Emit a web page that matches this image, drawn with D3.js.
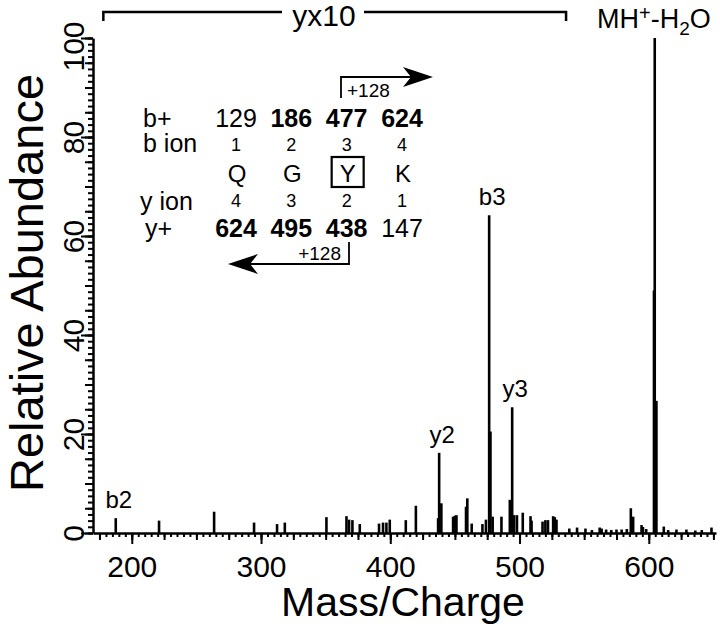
<!DOCTYPE html>
<html>
<head>
<meta charset="utf-8">
<script src="https://cdn.jsdelivr.net/npm/d3@7"></script>
<style>
  body { margin: 0; background: #fff; }
  svg text { font-family: "Liberation Sans", Arial, Helvetica, sans-serif; fill: #000; }
</style>
</head>
<body>
<div id="chart"></div>
<script>
// peaks (m/z, displayed relative abundance)
const mz = [187.6, 221.1, 263.7, 294.6, 312.4, 318.4, 350.6, 366.1, 368.1, 370.7,
            376.4, 391.3, 394.4, 397.0, 399.6, 412.0, 419.8, 437.0, 437.8, 439.5,
            448.6, 450.0, 451.2, 458.6, 459.6, 463.0, 471.3, 474.0, 476.5, 477.5,
            479.2, 486.0, 492.5, 494.3, 495.8, 498.0, 502.5, 508.5, 509.3, 517.8,
            520.0, 522.0, 526.0, 527.3, 528.6, 538.5, 544.5, 551.0, 556.0, 562.0,
            563.5, 567.0, 571.0, 575.0, 579.0, 583.0, 586.1, 587.9, 594.4, 595.5,
            598.0, 604.0, 604.6, 605.9, 611.6, 615.0, 621.4, 629.1, 636.0, 641.0, 648.5];
const abundance = [3.0, 2.5, 4.3, 2.1, 1.8, 2.1, 3.2, 3.4, 2.7, 2.6,
                   1.8, 1.9, 2.1, 2.1, 2.7, 2.6, 5.5, 3.0, 16.2, 6.0,
                   3.3, 3.5, 3.6, 5.3, 7.0, 1.9, 1.8, 2.7, 64.2, 20.5,
                   3.3, 3.3, 6.7, 25.4, 3.6, 3.6, 4.1, 3.4, 2.5, 2.3,
                   2.6, 2.6, 3.4, 3.2, 2.7, 0.9, 1.1, 0.9, 0.6, 1.1,
                   0.9, 0.7, 0.6, 0.7, 0.7, 0.8, 5.0, 3.3, 1.6, 1.2,
                   0.8, 49.0, 100, 26.7, 1.3, 0.6, 0.7, 0.7, 0.5, 0.6, 1.1];

const peakLabels = [
  {text: "b2", mz: 187.6, value: 3.0},
  {text: "y2", mz: 437.8, value: 16.2},
  {text: "b3", mz: 476.5, value: 64.2},
  {text: "y3", mz: 494.3, value: 25.4}
];

const magnifiedRange = [178, 536];   // region shown x10
const xTicks = [200, 300, 400, 500, 600];
const yTicks = [0, 20, 40, 60, 80, 100];

// fragment table
const bIons = [129, 186, 477, 624];
const bBold = [false, true, true, true];
const bNumbers = [1, 2, 3, 4];
const residues = ["Q", "G", "Y", "K"];
const yNumbers = [4, 3, 2, 1];
const yIons = [624, 495, 438, 147];
const yBold = [true, true, true, false];

const width = 720, height = 626;

const svg = d3.select("#chart").append("svg")
    .attr("width", width)
    .attr("height", height);

const x = d3.scaleLinear().domain([170, 652]).range([93, 716]);
const y = d3.scaleLinear().domain([0, 100]).range([533, 38]);

// x axis: minor, medium, major
svg.append("g")
    .attr("transform", "translate(0," + y(0) + ")")
    .call(d3.axisBottom(x).tickValues(d3.range(175, 651, 5)).tickSize(4).tickFormat(""))
    .call(g => g.select(".domain").remove());
svg.append("g")
    .attr("transform", "translate(0," + y(0) + ")")
    .call(d3.axisBottom(x).tickValues(d3.range(175, 651, 25)).tickSize(7).tickFormat(""))
    .call(g => g.select(".domain").remove());
const xAxis = svg.append("g")
    .attr("transform", "translate(0," + y(0) + ")")
    .call(d3.axisBottom(x).tickValues(xTicks).tickSize(11).tickSizeOuter(0).tickPadding(12));
xAxis.selectAll("text").style("font-size", "30px");

// y axis
svg.append("g")
    .attr("transform", "translate(" + x.range()[0] + ",0)")
    .call(d3.axisLeft(y).tickValues(d3.range(0, 100.1, 1.25)).tickSize(5).tickFormat(""))
    .call(g => g.select(".domain").remove());
svg.append("g")
    .attr("transform", "translate(" + x.range()[0] + ",0)")
    .call(d3.axisLeft(y).tickValues(d3.range(0, 101, 5)).tickSize(8).tickFormat(""))
    .call(g => g.select(".domain").remove());
const yAxis = svg.append("g")
    .attr("transform", "translate(" + x.range()[0] + ",0)")
    .call(d3.axisLeft(y).tickValues(yTicks).tickSize(12).tickSizeOuter(0));
yAxis.selectAll("text")
    .style("font-size", "30px")
    .attr("transform", "rotate(-90)")
    .attr("x", d => d === 100 ? -8 : 0)
    .attr("y", -9)
    .attr("dy", 0)
    .attr("text-anchor", "middle");

svg.selectAll(".tick line").attr("stroke", "#000").attr("stroke-width", 2);
svg.selectAll(".domain").attr("stroke", "#000").attr("stroke-width", 2.5);

// peaks
svg.append("g").selectAll("line")
    .data(d3.range(mz.length))
    .join("line")
    .attr("x1", i => x(mz[i]))
    .attr("x2", i => x(mz[i]))
    .attr("y1", y(0))
    .attr("y2", i => y(abundance[i]))
    .attr("stroke", "#000")
    .attr("stroke-width", 2.6);

// peak labels
svg.append("g").selectAll("text")
    .data(peakLabels)
    .join("text")
    .attr("x", d => x(d.mz) + 3)
    .attr("y", d => y(d.value) - 10)
    .attr("text-anchor", "middle")
    .style("font-size", "24px")
    .text(d => d.text);

// MH+-H2O label
const mh = svg.append("text")
    .attr("x", 597)
    .attr("y", 28)
    .style("font-size", "27px");
mh.append("tspan").text("MH");
mh.append("tspan").attr("dy", -8).style("font-size", "20px").text("+");
mh.append("tspan").attr("dy", 8).text("-H");
mh.append("tspan").attr("dy", 7).style("font-size", "19px").text("2");
mh.append("tspan").attr("dy", -7).text("O");

// yx10 bracket
const bx0 = x(magnifiedRange[0]), bx1 = x(magnifiedRange[1]);
svg.append("path")
    .attr("d", "M" + bx0 + ",21V12H282M364,12H" + bx1 + "V21")
    .attr("fill", "none")
    .attr("stroke", "#000")
    .attr("stroke-width", 2.5);
svg.append("text")
    .attr("x", 324)
    .attr("y", 26)
    .attr("text-anchor", "middle")
    .style("font-size", "30px")
    .text("yx10");

// axis titles
svg.append("text")
    .attr("x", 403)
    .attr("y", 616)
    .attr("text-anchor", "middle")
    .style("font-size", "41px")
    .text("Mass/Charge");
svg.append("text")
    .attr("transform", "translate(43,283) rotate(-90)")
    .attr("text-anchor", "middle")
    .style("font-size", "47px")
    .text("Relative Abundance");

// fragment table
const col = d3.scalePoint().domain(d3.range(4)).range([236, 402]);
const table = svg.append("g");

table.append("text").attr("x", 143).attr("y", 127).style("font-size", "25px").text("b+");
table.append("text").attr("x", 143).attr("y", 152).style("font-size", "25px").text("b ion");
table.append("text").attr("x", 140).attr("y", 210).style("font-size", "25px").text("y ion");
table.append("text").attr("x", 145).attr("y", 237).style("font-size", "25px").text("y+");

table.selectAll(".bval").data(bIons).join("text")
    .attr("x", (d, i) => col(i)).attr("y", 127)
    .attr("text-anchor", "middle")
    .style("font-size", "25px")
    .style("font-weight", (d, i) => bBold[i] ? "bold" : "normal")
    .text(d => d);
table.selectAll(".bnum").data(bNumbers).join("text")
    .attr("x", (d, i) => col(i)).attr("y", 151)
    .attr("text-anchor", "middle")
    .style("font-size", "18px")
    .text(d => d);
table.selectAll(".res").data(residues).join("text")
    .attr("x", (d, i) => col(i) + 1).attr("y", 182)
    .attr("text-anchor", "middle")
    .style("font-size", "24px")
    .text(d => d);
table.selectAll(".ynum").data(yNumbers).join("text")
    .attr("x", (d, i) => col(i)).attr("y", 207)
    .attr("text-anchor", "middle")
    .style("font-size", "18px")
    .text(d => d);
table.selectAll(".yval").data(yIons).join("text")
    .attr("x", (d, i) => col(i)).attr("y", 237)
    .attr("text-anchor", "middle")
    .style("font-size", "25px")
    .style("font-weight", (d, i) => yBold[i] ? "bold" : "normal")
    .text(d => d);

// box around modified residue
table.append("rect")
    .attr("x", col(2) - 15).attr("y", 157)
    .attr("width", 32).attr("height", 30)
    .attr("fill", "none").attr("stroke", "#000").attr("stroke-width", 2.2);

// +128 arrows
function arrowHead(tipX, tipY, dir) {
  const back = tipX - dir * 30, notch = tipX - dir * 22;
  return "M" + tipX + "," + tipY + "L" + back + "," + (tipY - 10) +
         "L" + notch + "," + tipY + "L" + back + "," + (tipY + 10) + "Z";
}
table.append("path")
    .attr("d", "M341,98V77H412")
    .attr("fill", "none").attr("stroke", "#000").attr("stroke-width", 1.8);
table.append("path").attr("d", arrowHead(433, 77, 1)).attr("fill", "#000");
table.append("text").attr("x", 347).attr("y", 97).style("font-size", "19px").text("+128");

table.append("path")
    .attr("d", "M349,242V264H250")
    .attr("fill", "none").attr("stroke", "#000").attr("stroke-width", 1.8);
table.append("path").attr("d", arrowHead(228, 264, -1)).attr("fill", "#000");
table.append("text").attr("x", 341).attr("y", 260).attr("text-anchor", "end")
    .style("font-size", "19px").text("+128");
</script>
</body>
</html>
